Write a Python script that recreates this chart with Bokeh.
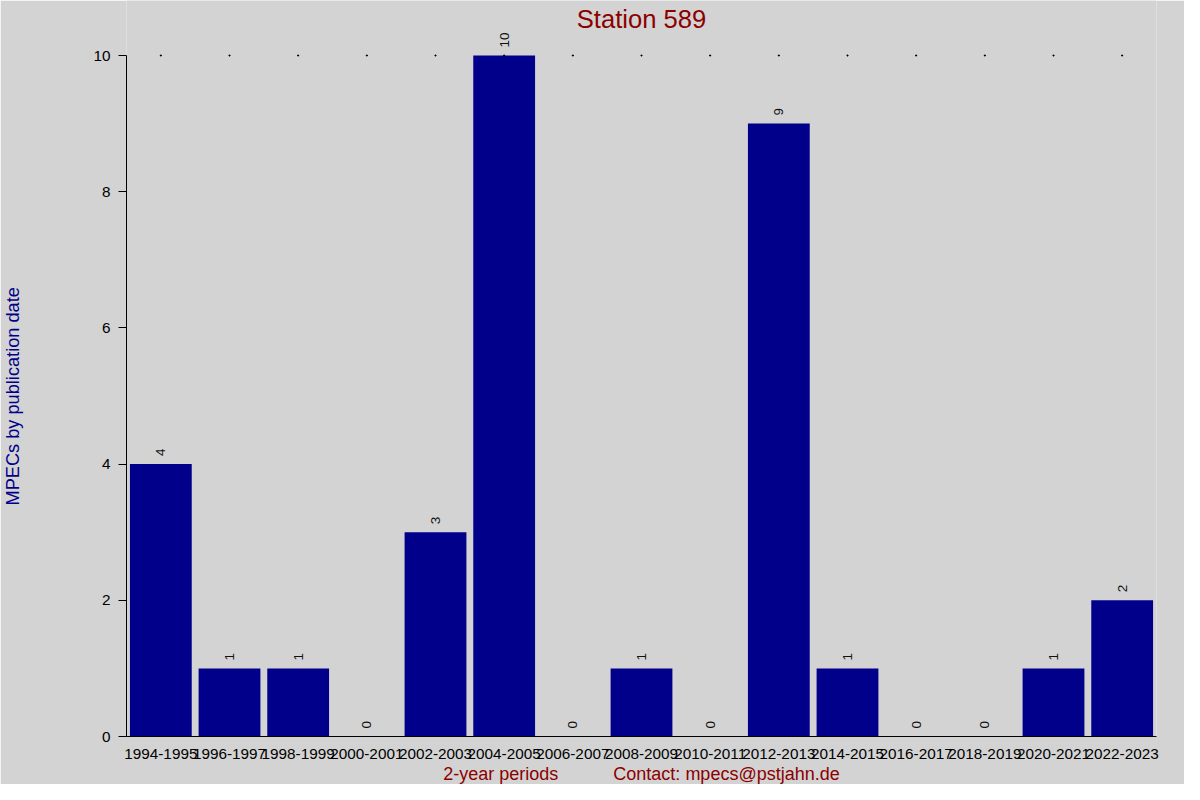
import math
from bokeh.plotting import figure
from bokeh.models import ColumnDataSource, LabelSet, Label, Title, FixedTicker, Range1d, FactorRange
from bokeh.core.properties import value
from bokeh.embed import file_html
from bokeh.resources import INLINE

periods = ["1994-1995", "1996-1997", "1998-1999", "2000-2001", "2002-2003",
           "2004-2005", "2006-2007", "2008-2009", "2010-2011", "2012-2013",
           "2014-2015", "2016-2017", "2018-2019", "2020-2021", "2022-2023"]
counts = [4, 1, 1, 0, 3, 10, 0, 1, 0, 9, 1, 0, 0, 1, 2]
y_ticks = [0, 2, 4, 6, 8, 10]

title_text = "Station 589"
y_label = "MPECs by publication date"
x_label = "2-year periods"
contact = "Contact: mpecs@pstjahn.de"

FONT = "Liberation Sans"
BG = "#D3D3D3"
DARKRED = "#8B0000"
DARKBLUE = "#00008B"

W, H = 1184, 784
AXIS_TOP_PX = 55      # pixel row of y = 10
AXIS_BOTTOM_PX = 736  # pixel row of y = 0
TITLE_PX = 18         # pixel row of title centre
Y_MAX = max(y_ticks)
unit = (AXIS_BOTTOM_PX - AXIS_TOP_PX) / Y_MAX
y_end = Y_MAX + AXIS_TOP_PX / unit

src = ColumnDataSource(dict(period=periods, count=counts,
                            label=[str(c) for c in counts],
                            top=[Y_MAX] * len(periods)))

p = figure(width=W, height=H, output_backend="svg", toolbar_location=None,
           x_range=FactorRange(*periods, range_padding=0),
           y_range=Range1d(0, y_end),
           min_border_left=126, min_border_right=28, min_border_top=0,
           min_border_bottom=H - AXIS_BOTTOM_PX,
           background_fill_color=BG, border_fill_color=BG)
p.outline_line_color = None
p.xgrid.visible = False
p.ygrid.visible = False

p.vbar(x="period", top="count", width=0.9, source=src, fill_color=DARKBLUE, line_color=None)
p.scatter(x="period", y="top", source=src, marker="square", size=1, color="black")

labels = LabelSet(x="period", y="count", text="label", source=src, angle=math.pi / 2,
                  text_align="left", text_baseline="middle", y_offset=8,
                  text_font=value(FONT), text_font_size=value("13.5px"), text_color="#111111")
p.add_layout(labels)

p.add_layout(Label(x=len(periods) / 2, y=Y_MAX + (AXIS_TOP_PX - TITLE_PX) / unit,
                   text=title_text, text_align="center", text_baseline="middle",
                   text_font=FONT, text_font_size="25.6px", text_color=DARKRED))

# y axis
p.yaxis.ticker = FixedTicker(ticks=y_ticks)
p.yaxis.bounds = (0, Y_MAX)
p.yaxis.minor_tick_line_color = None
p.yaxis.major_tick_out = 8
p.yaxis.major_tick_in = 0
p.yaxis.major_label_standoff = 8
p.yaxis.major_label_text_font = FONT
p.yaxis.major_label_text_font_size = "15.3px"
p.yaxis.major_label_text_color = "black"
p.yaxis.axis_line_color = "black"
# trailing no-break spaces shift the label so it centres on the 0..10 axis
p.yaxis.axis_label = y_label + "\u00a0" * 11
p.yaxis.axis_label_text_font = FONT
p.yaxis.axis_label_text_font_size = "18.2px"
p.yaxis.axis_label_text_font_style = "normal"
p.yaxis.axis_label_text_color = DARKBLUE
p.yaxis.axis_label_standoff = 67

# x axis
p.xaxis.major_tick_line_color = None
p.xaxis.minor_tick_line_color = None
p.xaxis.major_label_standoff = 6
p.xaxis.major_label_text_font = FONT
p.xaxis.major_label_text_font_size = "15.3px"
p.xaxis.major_label_text_color = "black"
p.xaxis.axis_line_color = "black"

gap = "\u00a0" * 11
bottom = Title(text=x_label + gap + contact, align="center", text_font=FONT,
               text_font_size="18px", text_font_style="normal",
               text_color=DARKRED, standoff=0)
p.add_layout(bottom, "below")

open("out.html", "w").write(file_html(p, INLINE))
